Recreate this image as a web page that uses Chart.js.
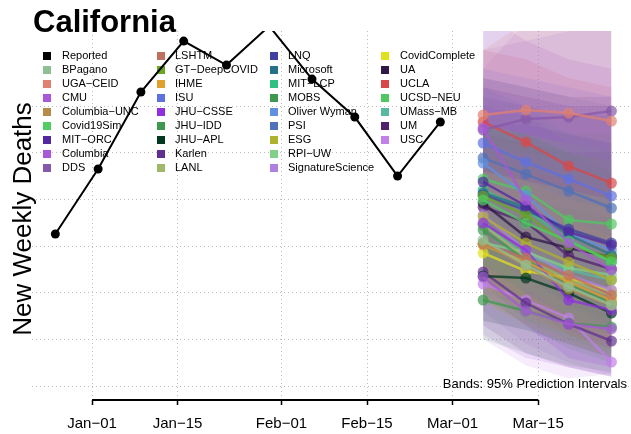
<!DOCTYPE html>
<html>
<head>
<meta charset="utf-8">
<title>California</title>
<script src="https://cdn.jsdelivr.net/npm/chart.js@4.4.0/dist/chart.umd.min.js"></script>
<style>
  html, body { margin: 0; padding: 0; background: #fff; }
  #chart { display: block; }
</style>
</head>
<body>
<canvas id="chart" width="631" height="434"></canvas>
<script>
// --- data ---
// reported weekly deaths, week ending on Saturday
const reportedDates = ['2020-12-26', '2021-01-02', '2021-01-09', '2021-01-16', '2021-01-23',
                       '2021-01-30', '2021-02-06', '2021-02-13', '2021-02-20', '2021-02-27'];
const reportedDeaths = [1629, 2325, 3150, 3696, 3439, 3857, 3289, 2882, 2250, 2829];

const forecastDates = ['2021-03-06', '2021-03-13', '2021-03-20', '2021-03-27'];

const modelNames = [
    'BPagano', 'UGA\u2212CEID', 'CMU', 'Columbia\u2212UNC', 'Covid19Sim', 'MIT\u2212ORC', 'Columbia', 'DDS',
    'LSHTM', 'GT\u2212DeepCOVID', 'IHME', 'ISU', 'JHU\u2212CSSE', 'JHU\u2212IDD', 'JHU\u2212APL', 'Karlen', 'LANL',
    'LNQ', 'Microsoft', 'MIT\u2212LCP', 'MOBS', 'Oliver Wyman', 'PSI', 'ESG', 'RPI\u2212UW', 'SignatureScience',
    'CovidComplete', 'UA', 'UCLA', 'UCSD\u2212NEU', 'UMass\u2212MB', 'UM', 'USC'
];

const modelColors = [
    '#8fc095', '#e08070', '#a858d8', '#b88c48', '#50cc60', '#5028a0', '#a858d8', '#8858a8',
    '#c07060', '#68a820', '#e0a030', '#6070e0', '#9030e0', '#409850', '#003820', '#603090', '#a0b868',
    '#4040a0', '#287088', '#30c080', '#409850', '#6090e0', '#5070b8', '#b0b030', '#80d088', '#b080e0',
    '#e0e020', '#301848', '#d84848', '#50c860', '#58b8a0', '#502070', '#c080e8'
];

// point forecasts (median), one row per model, one value per forecast week
const modelMedian = [
    [1564, 1296, 1061, 868],   // BPagano
    [2904, 2957, 2925, 2839],  // UGA-CEID
    [2764, 1993, 1532, 1243],  // CMU
    [1532, 1286, 1039, 868],   // Columbia-UNC
    [1993, 1746, 1554, 1329],  // Covid19Sim
    [2186, 1929, 1650, 1511],  // MIT-ORC
    [1168, 804, 664, 611],     // Columbia
    [2743, 2861, 2882, 2946],  // DDS
    [1521, 1371, 1189, 975],   // LSHTM
    [2036, 1832, 1511, 1371],  // GT-DeepCOVID
    [1511, 1329, 1114, 921],   // IHME
    [2604, 2400, 2218, 2036],  // ISU
    [1746, 1457, 921, 814],    // JHU-CSSE
    [1671, 1350, 1093, 889],   // JHU-IDD
    [1179, 1157, 996, 782],    // JHU-APL
    [1221, 889, 664, 482],     // Karlen
    [1725, 1371, 1136, 964],   // LANL
    [2046, 1886, 1682, 1532],  // LNQ
    [2068, 1918, 1618, 1404],  // Microsoft
    [2100, 1886, 1564, 1329],  // MIT-LCP
    [921, 804, 675, 632],      // MOBS
    [2389, 2046, 1629, 1457],  // Oliver Wyman
    [2443, 2271, 2089, 1907],  // PSI
    [1811, 1532, 1329, 1136],  // ESG
    [1532, 1436, 1264, 1189],  // RPI-UW
    [1832, 1457, 1189, 1029],  // SignatureScience
    [1425, 1232, 1157, 1018],  // CovidComplete
    [1961, 1596, 1479, 1382],  // UA
    [2829, 2614, 2357, 2175],  // UCLA
    [2218, 2089, 1779, 1736],  // UCSD-NEU
    [1725, 1404, 1243, 1136],  // UMass-MB
    [1918, 1757, 1393, 1254],  // UM
    [1093, 921, 729, 257]      // USC
];

// 95% prediction interval bounds
const modelLower = [
    [950, 700, 500, 350],
    [2100, 1900, 1700, 1500],
    [1700, 1000, 600, 400],
    [900, 650, 450, 300],
    [1300, 1000, 750, 550],
    [1300, 1000, 750, 550],
    [550, 300, 200, 100],
    [1500, 1400, 1300, 1200],
    [950, 750, 550, 400],
    [1350, 1050, 750, 550],
    [1050, 850, 650, 450],
    [1800, 1500, 1250, 1000],
    [1000, 650, 300, 200],
    [950, 650, 400, 250],
    [700, 600, 450, 300],
    [650, 350, 200, 100],
    [1100, 800, 550, 400],
    [1400, 1150, 900, 700],
    [1450, 1200, 900, 650],
    [1450, 1150, 850, 600],
    [500, 350, 220, 150],
    [1650, 1250, 850, 650],
    [1700, 1400, 1150, 950],
    [1200, 900, 700, 500],
    [1000, 850, 650, 550],
    [800, 450, 250, 120],
    [900, 700, 550, 400],
    [1100, 700, 500, 350],
    [2000, 1700, 1400, 1150],
    [1550, 1350, 1000, 900],
    [1100, 800, 600, 450],
    [1150, 900, 550, 400],
    [500, 220, 80, 130]
];

const modelUpper = [
    [2300, 2200, 2100, 2000],
    [3600, 3900, 4100, 4200],
    [4000, 3700, 3500, 3400],
    [2300, 2200, 2000, 1900],
    [2800, 2700, 2600, 2500],
    [3200, 3100, 3000, 3000],
    [2600, 2500, 2400, 2400],
    [4000, 4300, 4500, 4700],
    [2300, 2300, 2200, 2100],
    [2800, 2700, 2500, 2400],
    [2100, 2000, 1800, 1600],
    [3400, 3300, 3200, 3100],
    [3000, 2900, 2600, 2500],
    [2800, 2600, 2400, 2300],
    [1900, 2000, 1900, 1800],
    [2700, 2600, 2500, 2500],
    [2500, 2300, 2100, 2000],
    [2800, 2800, 2700, 2600],
    [2750, 2700, 2500, 2300],
    [2800, 2700, 2500, 2300],
    [1700, 1600, 1500, 1500],
    [3200, 3000, 2700, 2600],
    [3300, 3200, 3100, 3000],
    [2500, 2300, 2200, 2100],
    [2200, 2200, 2100, 2000],
    [3600, 3700, 3800, 3900],
    [2100, 2000, 2000, 1900],
    [3100, 3000, 2900, 2900],
    [3600, 3500, 3300, 3200],
    [2900, 2900, 2700, 2700],
    [2500, 2300, 2200, 2100],
    [3300, 3200, 3100, 3100],
    [3400, 3900, 4200, 4500]
];

const tickDates = ['2021-01-01', '2021-01-15', '2021-02-01', '2021-02-15', '2021-03-01', '2021-03-15'];
const tickLabels = ['Jan\u221201', 'Jan\u221215', 'Feb\u221201', 'Feb\u221215', 'Mar\u221201', 'Mar\u221215'];
const gridDeaths = [0, 500, 1000, 1500, 2000, 2500, 3000];

// --- helpers ---
const FONT = '"Liberation Sans", Arial, Helvetica, sans-serif';

function dayNum(d) {
    return (Date.parse(d + 'T00:00:00Z') - Date.parse('2021-01-01T00:00:00Z')) / 864e5;
}

function alpha(hex, a) {
    const n = parseInt(hex.slice(1), 16);
    return 'rgba(' + (n >> 16) + ',' + ((n >> 8) & 255) + ',' + (n & 255) + ',' + a + ')';
}

// --- datasets ---
const datasets = [{
    label: 'Reported',
    data: reportedDates.map((d, i) => ({ x: dayNum(d), y: reportedDeaths[i] })),
    borderColor: '#000',
    backgroundColor: '#000',
    borderWidth: 2,
    pointRadius: 4.5,
    pointBorderWidth: 0,
    fill: false
}];

modelNames.forEach(function(name, m) {
    const pts = arr => forecastDates.map((d, i) => ({ x: dayNum(d), y: arr[m][i] }));
    const c = modelColors[m];
    const lowerIndex = datasets.length;
    datasets.push({
        label: name + ' lower', data: pts(modelLower),
        borderWidth: 0, pointRadius: 0, fill: false
    });
    datasets.push({
        label: name + ' upper', data: pts(modelUpper),
        borderWidth: 0, pointRadius: 0, fill: lowerIndex,
        backgroundColor: alpha(c, 0.15)
    });
    datasets.push({
        label: name, data: pts(modelMedian),
        borderColor: alpha(c, 0.75), backgroundColor: alpha(c, 0.7),
        borderWidth: 2.5, pointRadius: 5.5, pointBorderWidth: 0, fill: false
    });
});

// legend, title and notes drawn by hand (R style, 4 columns)
const decorPlugin = {
    id: 'decor',
    beforeDatasetsDraw(chart) {
        const ctx = chart.ctx;
        const names = ['Reported'].concat(modelNames);
        const colors = ['#000000'].concat(modelColors);
        const boxX = [43, 157, 270, 381];
        const textX = [62, 175, 288, 400];
        ctx.save();
        ctx.font = '11px ' + FONT;
        ctx.textBaseline = 'middle';
        ctx.textAlign = 'left';
        names.forEach(function(n, i) {
            const col = Math.floor(i / 9), row = i % 9;
            const y = 56 + row * 14;
            ctx.fillStyle = colors[i];
            ctx.fillRect(boxX[col], y - 4, 8, 8);
            ctx.fillStyle = '#000';
            ctx.fillText(n, textX[col], y);
        });
        ctx.restore();
    },
    afterDraw(chart) {
        const ctx = chart.ctx;
        const x = chart.scales.x;
        const area = chart.chartArea;
        ctx.save();
        // bottom axis line from first to last tick
        ctx.strokeStyle = '#000';
        ctx.lineWidth = 2;
        ctx.beginPath();
        ctx.moveTo(x.getPixelForValue(dayNum(tickDates[0])), area.bottom);
        ctx.lineTo(x.getPixelForValue(dayNum(tickDates[tickDates.length - 1])), area.bottom);
        ctx.stroke();

        ctx.fillStyle = '#000';
        ctx.font = 'bold 31px ' + FONT;
        ctx.textAlign = 'left';
        ctx.textBaseline = 'alphabetic';
        ctx.fillText('California', 33, 32);

        ctx.font = '13px ' + FONT;
        ctx.textAlign = 'right';
        ctx.textBaseline = 'middle';
        ctx.fillText('Bands: 95% Prediction Intervals', 627, 384);

        ctx.translate(31, 219);
        ctx.rotate(-Math.PI / 2);
        ctx.font = '26px ' + FONT;
        ctx.textAlign = 'center';
        ctx.textBaseline = 'alphabetic';
        ctx.fillText('New Weekly Deaths', 0, 0);
        ctx.restore();
    }
};

new Chart(document.getElementById('chart'), {
    type: 'line',
    data: { datasets: datasets },
    options: {
        responsive: false,
        animation: false,
        devicePixelRatio: 1,
        events: [],
        layout: { autoPadding: false, padding: { left: 32, top: 31, right: 0, bottom: 0 } },
        elements: { line: { tension: 0 } },
        scales: {
            x: {
                type: 'linear',
                min: -9.82,
                max: 88.2,
                afterBuildTicks: function(scale) {
                    scale.ticks = tickDates.map(d => ({ value: dayNum(d) }));
                },
                afterFit: function(scale) { scale.height = 34; },
                ticks: {
                    color: '#000',
                    font: { family: FONT, size: 15 },
                    padding: 10,
                    maxRotation: 0,
                    autoSkip: false,
                    callback: function(v) {
                        const i = tickDates.findIndex(d => dayNum(d) === v);
                        return i >= 0 ? tickLabels[i] : '';
                    }
                },
                grid: {
                    color: '#bdbdbd',
                    lineWidth: 1,
                    tickColor: '#000',
                    tickWidth: 1.5,
                    tickLength: 5,
                    tickBorderDash: []
                },
                border: { display: false, dash: [1, 3] }
            },
            y: {
                type: 'linear',
                min: -150,
                max: 3804,
                afterBuildTicks: function(scale) {
                    scale.ticks = gridDeaths.map(v => ({ value: v }));
                },
                afterFit: function(scale) { scale.width = 0; },
                ticks: { display: false },
                grid: { color: '#bdbdbd', lineWidth: 1, drawTicks: false },
                border: { display: false, dash: [1, 3] }
            }
        },
        plugins: {
            legend: { display: false },
            tooltip: { enabled: false },
            filler: { drawTime: 'beforeDatasetsDraw', propagate: false }
        }
    },
    plugins: [decorPlugin]
});
</script>
</body>
</html>
